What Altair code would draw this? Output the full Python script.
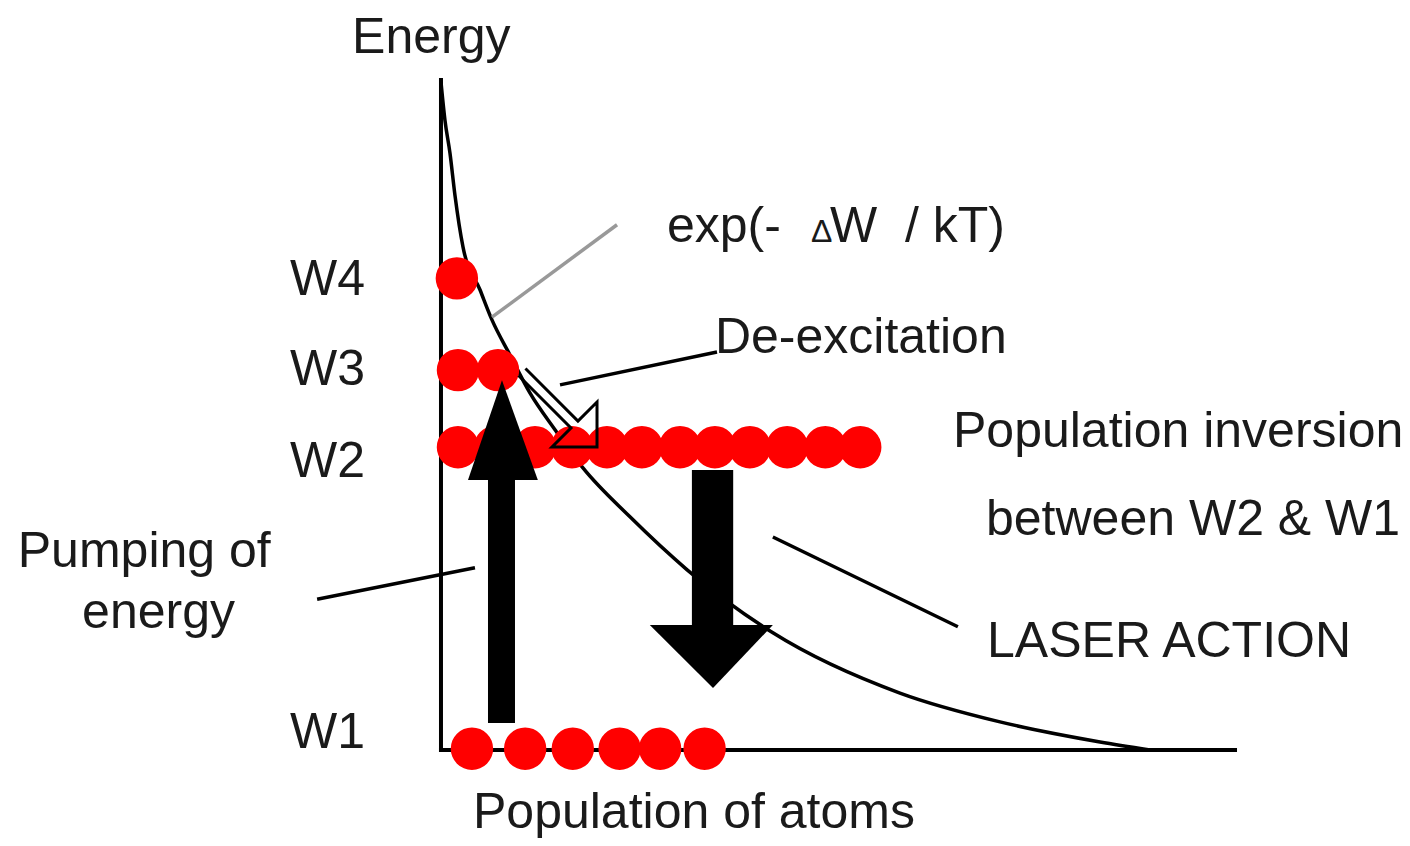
import altair as alt
import pandas as pd

# ---------------- data (diagram units: population 0-100, energy 0-100) ----------------
# Boltzmann-like curve exp(-dW/kT)
curve_pop = [0.0, 0.5, 1.13, 1.76, 2.77, 4.91, 6.42, 8.69, 11.2, 14.36, 17.88, 23.8, 31.0, 41.8, 57.8, 70.4, 83.0, 89.3]
curve_energy = [99.7, 94.0, 89.1, 82.8, 75.1, 68.7, 64.2, 58.96, 53.3, 47.8, 42.1, 34.8, 26.9, 17.5, 8.5, 4.2, 1.2, 0.0]

# atoms (red dots) on each level
level_names = ["W1", "W2", "W3", "W4"]
level_energy = [0.2, 45.2, 56.7, 70.4]
w1_atoms = [3.9, 10.6, 16.6, 22.5, 27.6, 33.2]
w2_atoms = [2.14, 6.8, 11.84, 16.5, 20.9, 25.3, 30.1, 34.5, 38.9, 43.6, 48.4, 52.8]
w3_atoms = [2.14, 7.18]
w4_atoms = [2.0]

# level label positions (left edge pop, baseline energy)
level_label_pop = [-19.0, -19.0, -19.0, -19.0]
level_label_energy = [0.3, 40.75, 54.5, 67.9]

# axes
axis_top = 100.0
axis_right = 100.0

# ---------------- scales ----------------
X_DOM = [-54.53, 121.03]
Y_DOM = [-13.13, 110.75]
xs = alt.Scale(domain=X_DOM, nice=False, zero=False)
ys = alt.Scale(domain=Y_DOM, nice=False, zero=False)
FONT = "Liberation Sans"
TXT = "#1a1a1a"


def X(f="x"):
    return alt.X(f"{f}:Q", scale=xs, axis=None)


def Y(f="y"):
    return alt.Y(f"{f}:Q", scale=ys, axis=None)


# axes lines
axes_df = pd.DataFrame({
    "id": ["v", "v", "h", "h"],
    "i": [0, 1, 0, 1],
    "x": [0, 0, 0, axis_right],
    "y": [axis_top, 0, 0, 0],
})
axes = alt.Chart(axes_df).mark_line(color="black", strokeWidth=4, strokeCap="square").encode(
    x=X(), y=Y(), detail="id:N", order="i:Q")

# curve
curve_df = pd.DataFrame({"x": curve_pop, "y": curve_energy, "i": range(len(curve_pop))})
curve = alt.Chart(curve_df).mark_line(color="black", strokeWidth=3.5, interpolate="monotone").encode(
    x=X(), y=Y(), order="i:Q")

# dots
rows = []
for lvl, e, atoms in zip(level_names, level_energy, [w1_atoms, w2_atoms, w3_atoms, w4_atoms]):
    for p in atoms:
        rows.append({"x": p, "y": e, "level": lvl})
dots_df = pd.DataFrame(rows)
dots = alt.Chart(dots_df).mark_circle(color="#ff0000", opacity=1, size=1800).encode(x=X(), y=Y())

# pumping arrow (up) and laser arrow (down): shafts
shaft_df = pd.DataFrame({
    "name": ["pump", "laser"],
    "x": [5.92, 31.6], "x2": [9.32, 36.8],
    "y": [4.03, 18.66], "y2": [40.3, 41.8],
})
shafts = alt.Chart(shaft_df).mark_rect(color="black").encode(
    x=X(), x2="x2:Q", y=Y(), y2="y2:Q")

# arrow heads (triangles)
head_df = pd.DataFrame({
    "name": ["pump"] * 3 + ["laser"] * 3,
    "x": [3.4, 7.68, 12.2, 26.3, 34.26, 41.8],
    "y": [40.3, 55.2, 40.3, 18.66, 9.25, 18.66],
    "y2": [40.3, 40.3, 40.3, 18.66, 18.66, 18.66],
})
heads = alt.Chart(head_df).mark_area(color="black", opacity=1).encode(
    x=X(), y=Y(), y2="y2:Q", detail="name:N")

# de-excitation hollow arrow (outline)
open_df = pd.DataFrame({
    "i": range(7),
    "x": [10.64, 17.25, 19.65, 19.65, 13.98, 16.37, 9.76],
    "y": [56.94, 49.1, 51.94, 45.22, 45.22, 48.06, 55.9],
})
open_arrow = alt.Chart(open_df).mark_line(color="black", strokeWidth=3, strokeJoin="miter").encode(
    x=X(), y=Y(), order="i:Q")

# pointer lines
ptr_df = pd.DataFrame({
    "id": ["exp", "exp", "deex", "deex", "pump", "pump", "laser", "laser"],
    "i": [0, 1] * 4,
    "x": [6.42, 22.17, 14.99, 34.76, -15.6, 4.28, 41.8, 65.1],
    "y": [64.6, 78.4, 54.5, 59.4, 22.5, 27.2, 31.8, 18.4],
    "c": ["#999999", "#999999", "black", "black", "black", "black", "black", "black"],
})
pointers = alt.Chart(ptr_df).mark_line(strokeWidth=3.5).encode(
    x=X(), y=Y(), detail="id:N", order="i:Q", color=alt.Color("c:N", scale=None))

# texts
txt_df = pd.DataFrame({
    "t": ["Energy", "Pumping of", "energy", "exp(-", "\u0394", "W\u00a0\u00a0/ kT)", "De-excitation",
          "Population inversion", "between W2 & W1", "LASER ACTION", "Population of atoms"]
         + level_names,
    "x": [-11.2, -53.3, -45.2, 28.46, 46.6, 49.0, 34.5, 64.48, 68.64, 68.77, 4.03] + level_label_pop,
    "y": [104.0, 27.3, 18.2, 75.8, 75.8, 75.8, 59.25, 45.22, 32.09, 13.88, -11.6] + level_label_energy,
    "fs": [50, 50, 50, 50, 32, 50, 50, 50, 50, 50, 50] + [50] * 4,
})
texts = alt.Chart(txt_df).mark_text(align="left", baseline="alphabetic", font=FONT, color=TXT).encode(
    x=X(), y=Y(), text="t:N", size=alt.Size("fs:Q", scale=None))

chart = alt.layer(axes, curve, dots, shafts, heads, open_arrow, pointers, texts).properties(
    width=1394, height=830, padding=0, autosize=alt.AutoSizeParams(type="none"),
    background="white",
).configure_view(stroke=None)

chart.save("out.html", embed_options={"renderer": "svg", "actions": False})
